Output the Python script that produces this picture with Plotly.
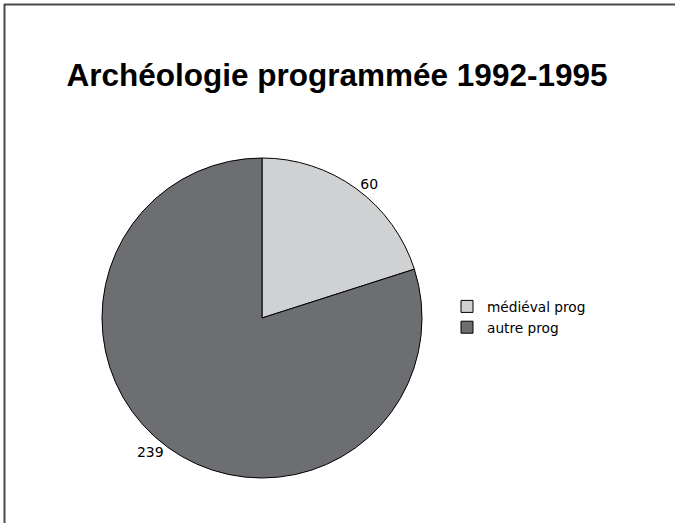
import plotly.graph_objects as go

title_text = "Archéologie programmée 1992-1995"
labels = ["médiéval prog", "autre prog"]
values = [60, 239]
colors = ["#D0D1D3", "#6D6E72"]

W, H = 675, 523
cx, cy, R = 262, 318, 160

fig = go.Figure()
fig.add_trace(go.Pie(
    labels=labels,
    values=values,
    sort=False,
    direction="clockwise",
    rotation=0,
    marker=dict(colors=colors, line=dict(color="#000000", width=1)),
    textinfo="value",
    textposition="outside",
    textfont=dict(family="DejaVu Sans", size=14, color="#000000"),
    domain=dict(x=[(cx - R) / W, (cx + R) / W], y=[(H - cy - R) / H, (H - cy + R) / H]),
    showlegend=True,
    hoverinfo="label+value",
))

fig.update_layout(
    width=W, height=H,
    margin=dict(l=0, r=0, t=0, b=0),
    paper_bgcolor="white",
    plot_bgcolor="white",
    title=dict(text="<b>" + title_text + "</b>", x=337 / W, xanchor="center",
               y=1 - 75 / H, yanchor="middle",
               font=dict(family="Liberation Sans, Arial", size=31.5, color="#000000")),
    legend=dict(x=447 / W, y=1 - 317 / H, xanchor="left", yanchor="middle",
                font=dict(family="DejaVu Sans", size=13.7, color="#000000"),
                itemwidth=30, tracegroupgap=0, bgcolor="rgba(0,0,0,0)"),
    shapes=[
        dict(type="line", xref="paper", yref="paper", x0=4 / W, x1=1, y0=1 - 4.5 / H, y1=1 - 4.5 / H,
             line=dict(color="#4a4a4a", width=2)),
        dict(type="line", xref="paper", yref="paper", x0=4.5 / W, x1=4.5 / W, y0=0, y1=1 - 4 / H,
             line=dict(color="#4a4a4a", width=2)),
    ],
)

fig.write_html("out.html", config={"displayModeBar": False},
               post_script="document.body.style.margin='0';document.body.style.overflow='hidden';")
